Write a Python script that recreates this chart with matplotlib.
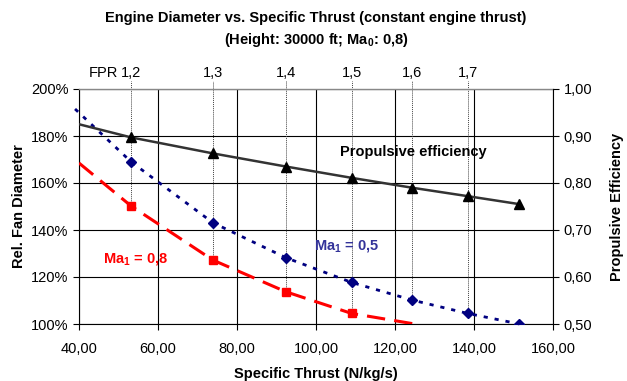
import matplotlib
matplotlib.use('Agg')
import matplotlib.pyplot as plt
from matplotlib.ticker import FuncFormatter, MultipleLocator

plt.rcParams['font.family'] = ['Liberation Sans', 'DejaVu Sans']
plt.rcParams['mathtext.fontset'] = 'custom'
plt.rcParams['mathtext.rm'] = 'Liberation Sans'
plt.rcParams['mathtext.bf'] = 'Liberation Sans:bold'
plt.rcParams['mathtext.default'] = 'bf'

# ---- data ----
fpr_labels = ['1,2', '1,3', '1,4', '1,5', '1,6', '1,7']
thrust_fpr = [53.2, 73.9, 92.4, 109.0, 124.3, 138.4]
thrust_all = thrust_fpr + [151.5]

diam_ma05 = [169.0, 143.1, 128.2, 117.7, 110.2, 104.5, 100.0]
diam_ma08 = [150.2, 127.2, 113.7, 104.5]
prop_eff = [0.897, 0.863, 0.835, 0.811, 0.790, 0.772, 0.755]

# trendline end points (as drawn in the original)
ma05_start = (39.0, 191.5)
ma08_start = (40.0, 168.5)
ma08_end = (125.0, 100.0)
eff_start = (40.0, 0.925)

fig = plt.figure(figsize=(6.27, 3.81), dpi=100)
ax = fig.add_axes([79 / 627, 1 - 324 / 381, 474 / 627, 235 / 381])
ax2 = ax.twinx()

ax.set_xlim(40, 160)
ax.set_ylim(100, 200)
ax2.set_ylim(0.5, 1.0)

ax.xaxis.set_major_locator(MultipleLocator(20))
ax.yaxis.set_major_locator(MultipleLocator(20))
ax2.yaxis.set_major_locator(MultipleLocator(0.1))
ax.xaxis.set_major_formatter(FuncFormatter(lambda v, p: f'{v:.2f}'.replace('.', ',')))
ax.yaxis.set_major_formatter(FuncFormatter(lambda v, p: f'{v:.0f}%'))
ax2.yaxis.set_major_formatter(FuncFormatter(lambda v, p: f'{v:.2f}'.replace('.', ',')))

ax.grid(True, color='black', linewidth=0.8)
ax.set_axisbelow(True)
ax.spines['right'].set_visible(False)
ax.spines['top'].set_color('#888888')
ax.spines['top'].set_linewidth(1.0)
for s in ['top', 'left', 'bottom']:
    ax2.spines[s].set_visible(False)
ax.spines['left'].set_linewidth(0.8)
ax.spines['bottom'].set_linewidth(0.8)
ax2.spines['right'].set_linewidth(0.8)

for a in (ax, ax2):
    a.tick_params(labelsize=10.5, length=4, width=0.8, colors='black')
ax.tick_params(axis='x', pad=9)

# vertical FPR marker lines
low = [min(diam_ma05[i], diam_ma08[i]) if i < len(diam_ma08) else diam_ma05[i]
       for i in range(len(thrust_fpr))]
ax.vlines(thrust_fpr, low, 203.5, colors='#444444', linestyles=(0, (1, 1)),
          linewidth=0.7, clip_on=False, zorder=2)
for x, lab in zip(thrust_fpr, fpr_labels):
    ax.text(x, 207.0, lab, ha='center', va='center', fontsize=10.5)
ax.text(thrust_fpr[0] - 3.2, 207.0, 'FPR', ha='right', va='center', fontsize=10.5)

# Ma1 = 0.5 line
xb = [ma05_start[0]] + thrust_all
yb = [ma05_start[1]] + diam_ma05
ax.plot(xb, yb, color='#000080', linewidth=2, linestyle=(0, (1.5, 2.5)),
        clip_on=False, zorder=3)
ax.plot(thrust_all, diam_ma05, 'D', color='#000080', markersize=5, zorder=4)

# Ma1 = 0.8 line
xr = [ma08_start[0]] + thrust_fpr[:len(diam_ma08)] + [ma08_end[0]]
yr = [ma08_start[1]] + diam_ma08 + [ma08_end[1]]
ax.plot(xr, yr, color='red', linewidth=2.2, linestyle=(0, (6, 3)), zorder=3)
ax.plot(thrust_fpr[:len(diam_ma08)], diam_ma08, 's', color='red',
        markersize=6, zorder=4)

# propulsive efficiency
ax2.plot([eff_start[0]] + thrust_all, [eff_start[1]] + prop_eff,
         color='#333333', linewidth=1.8, zorder=3)
ax2.plot(thrust_all, prop_eff, '^', color='black', markersize=7, zorder=4)

ax.text(124.6, 173.2, 'Propulsive efficiency', ha='center', va='center',
        fontsize=10.5, fontweight='bold', color='black', zorder=5)
ax.text(99.5, 133.2, r'Ma$_1$ = 0,5', ha='left', va='center',
        fontsize=10.5, fontweight='bold', color='#333399', zorder=5)
ax.text(54.2, 127.5, r'Ma$_1$ = 0,8', ha='center', va='center',
        fontsize=10.5, fontweight='bold', color='red', zorder=5)

ax.set_xlabel('Specific Thrust (N/kg/s)', fontsize=10.5, fontweight='bold',
              labelpad=8)
ax.set_ylabel('Rel. Fan Diameter', fontsize=10.5, fontweight='bold', labelpad=4)
ax2.set_ylabel('Propulsive Efficiency', fontsize=10.5, fontweight='bold',
               labelpad=13)

fig.text(316 / 627, 1 - 18 / 381,
         'Engine Diameter vs. Specific Thrust (constant engine thrust)',
         ha='center', va='center', fontsize=10.5, fontweight='bold')
fig.text(316 / 627, 1 - 40 / 381, r'(Height: 30000 ft; Ma$_0$: 0,8)',
         ha='center', va='center', fontsize=10.5, fontweight='bold')

fig.savefig('out.png', dpi=100, facecolor='white')
